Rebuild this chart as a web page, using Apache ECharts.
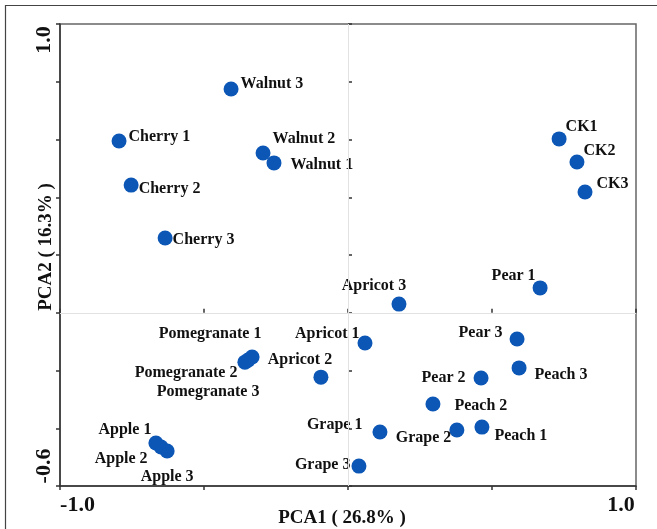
<!DOCTYPE html>
<html>
<head>
<meta charset="utf-8">
<script src="https://cdn.jsdelivr.net/npm/echarts@6/dist/echarts.min.js"></script>
<style>
  html, body { margin: 0; padding: 0; background: #fff; }
  #chart { width: 657px; height: 529px; }
</style>
</head>
<body>
<div id="chart"></div>
<script>
// ---- data ----
const names = ['Walnut 3','Cherry 1','Walnut 2','Walnut 1','Cherry 2','Cherry 3',
  'CK1','CK2','CK3','Pear 1','Apricot 3','Pear 3','Peach 3','Pear 2','Peach 2',
  'Grape 2','Peach 1','Apricot 1','Apricot 2','Pomegranate 1','Pomegranate 2',
  'Pomegranate 3','Grape 1','Grape 3','Apple 1','Apple 2','Apple 3'];
const pca1 = [-0.406,-0.795,-0.295,-0.257,-0.753,-0.635,
  0.733,0.795,0.823,0.667,0.177,0.587,0.594,0.462,0.295,
  0.378,0.465,0.059,-0.094,-0.333,-0.358,
  -0.347,0.111,0.038,-0.667,-0.649,-0.628];
const pca2 = [0.775,0.595,0.553,0.519,0.442,0.259,
  0.602,0.522,0.418,0.086,0.030,-0.091,-0.191,-0.226,-0.316,
  -0.406,-0.396,-0.105,-0.223,-0.153,-0.171,
  -0.164,-0.413,-0.531,-0.451,-0.465,-0.479];
const xTickLabels = { min: '-1.0', max: '1.0' };
const yTickLabels = { min: '-0.6', max: '1.0' };
const xName = 'PCA1 ( 26.8% )';
const yName = 'PCA2 ( 16.3% )';

// ---- label placement (style only): [position, distance, dx, dy] ----
const labelPlacement = {
  'Walnut 3': ['right', 2, 0, -7],
  'Cherry 1': ['right', 2, 0, -6],
  'Walnut 2': ['right', 2, 0, -16],
  'Walnut 1': ['right', 9, 0, 0],
  'Cherry 2': ['right', 0, 0, 2],
  'Cherry 3': ['right', 0, 0, 0],
  'CK1': ['right', -1, 0, -14],
  'CK2': ['right', -1, 0, -13],
  'CK3': ['right', 4, 0, -10],
  'Pear 1': ['left', -3, 0, -14],
  'Apricot 3': ['top', 4, -25, 0],
  'Pear 3': ['left', 7, 0, -8],
  'Peach 3': ['right', 8, 0, 5],
  'Pear 2': ['left', 8, 0, -2],
  'Peach 2': ['right', 14, 0, 0],
  'Grape 2': ['left', -2, 0, 6],
  'Peach 1': ['right', 5, 0, 7],
  'Apricot 1': ['left', -2, 0, -11],
  'Apricot 2': ['top', 3, -21, 0],
  'Pomegranate 1': ['top', 9, -42, 0],
  'Pomegranate 2': ['left', 0, 0, 9],
  'Pomegranate 3': ['bottom', 15, -40, 0],
  'Grape 1': ['left', 10, 0, -9],
  'Grape 3': ['left', 1, 0, -3],
  'Apple 1': ['left', -3, 0, -15],
  'Apple 2': ['left', 6, 0, 10],
  'Apple 3': ['bottom', 9, 0, 0]
};
const labelNudgeY = 1.5;

const FONT = '"Times New Roman", "Liberation Serif", "DejaVu Serif", serif';
const near = (a, b) => Math.abs(a - b) < 1e-6;

const seriesData = names.map((n, i) => {
  const p = labelPlacement[n];
  return {
    name: n,
    value: [pca1[i], pca2[i]],
    label: { position: p[0], distance: p[1], offset: [p[2], p[3] + labelNudgeY] }
  };
});

const chart = echarts.init(document.getElementById('chart'), null, { renderer: 'canvas' });

const xMin = -1, xMax = 1, yMin = -0.6, yMax = 1;

chart.setOption({
  animation: false,
  backgroundColor: '#fff',
  graphic: [{
    type: 'rect',
    silent: true,
    shape: { x: 5.5, y: 5.5, width: 660, height: 560 },
    style: { fill: 'none', stroke: '#444', lineWidth: 1.2 },
    z: -10
  }],
  grid: {
    left: 60, right: 21, top: 24, bottom: 43,
    outerBoundsMode: 'none', containLabel: false,
    show: true, borderColor: '#666', borderWidth: 1.5, backgroundColor: 'transparent'
  },
  xAxis: [{
    type: 'value', min: xMin, max: xMax, interval: 0.5,
    name: xName, nameLocation: 'middle', nameGap: 23, nameMoveOverlap: false,
    nameTextStyle: { fontFamily: FONT, fontWeight: 'bold', fontSize: 19, color: '#111', padding: [0, 12, 0, 0] },
    axisLine: { show: true, onZero: false, lineStyle: { color: '#333', width: 1.5 } },
    axisTick: { show: true, inside: false, length: 4, lineStyle: { color: '#333', width: 1.5 } },
    splitLine: { show: false },
    axisLabel: {
      margin: 8,
      formatter: v => near(v, xMin) ? '{a|' + xTickLabels.min + '}' : (near(v, xMax) ? '{b|' + xTickLabels.max + '}' : ''),
      rich: {
        a: { fontFamily: FONT, fontWeight: 'bold', fontSize: 22, color: '#111', padding: [0, 0, 0, 35] },
        b: { fontFamily: FONT, fontWeight: 'bold', fontSize: 22, color: '#111', padding: [0, 30, 0, 0] }
      }
    }
  }, {
    type: 'value', min: xMin, max: xMax, interval: 0.5, position: 'bottom',
    axisLine: { show: false },
    axisTick: { show: true, inside: true, length: 4, lineStyle: { color: '#333', width: 1.5 } },
    axisLabel: { show: false }, splitLine: { show: false }
  }],
  yAxis: [{
    type: 'value', min: yMin, max: yMax, interval: 0.2,
    name: yName, nameLocation: 'middle', nameGap: 4, nameMoveOverlap: false,
    nameTextStyle: { fontFamily: FONT, fontWeight: 'bold', fontSize: 19, color: '#111', padding: [0, 0, 0, 16] },
    axisLine: { show: true, onZero: false, lineStyle: { color: '#333', width: 1.5 } },
    axisTick: { show: true, inside: false, length: 4, lineStyle: { color: '#333', width: 1.5 } },
    splitLine: { show: false },
    axisLabel: {
      rotate: 90, margin: 5,
      formatter: v => near(v, yMin) ? '{a|' + yTickLabels.min + '}' : (near(v, yMax) ? '{b|' + yTickLabels.max + '}' : ''),
      rich: {
        a: { fontFamily: FONT, fontWeight: 'bold', fontSize: 22, color: '#111', padding: [0, 0, 0, 40] },
        b: { fontFamily: FONT, fontWeight: 'bold', fontSize: 22, color: '#111', padding: [0, 32, 0, 0] }
      }
    }
  }, {
    type: 'value', min: yMin, max: yMax, interval: 0.2, position: 'left',
    axisLine: { show: false },
    axisTick: { show: true, inside: true, length: 4, lineStyle: { color: '#333', width: 1.5 } },
    axisLabel: { show: false }, splitLine: { show: false }
  }],
  series: [{
    type: 'scatter',
    xAxisIndex: 0, yAxisIndex: 0,
    symbol: 'circle', symbolSize: 15,
    itemStyle: { color: '#0c57b6', opacity: 1 },
    label: {
      show: true, formatter: '{b}',
      fontFamily: FONT, fontWeight: 'bold', fontSize: 16, color: '#111'
    },
    emphasis: { disabled: true },
    markLine: {
      silent: true, symbol: 'none', animation: false,
      label: { show: false },
      lineStyle: { color: '#e2e2e2', width: 1, type: 'solid' },
      data: [{ xAxis: 0 }, { yAxis: 0 }]
    },
    data: seriesData,
    z: 3
  }]
});
</script>
</body>
</html>
